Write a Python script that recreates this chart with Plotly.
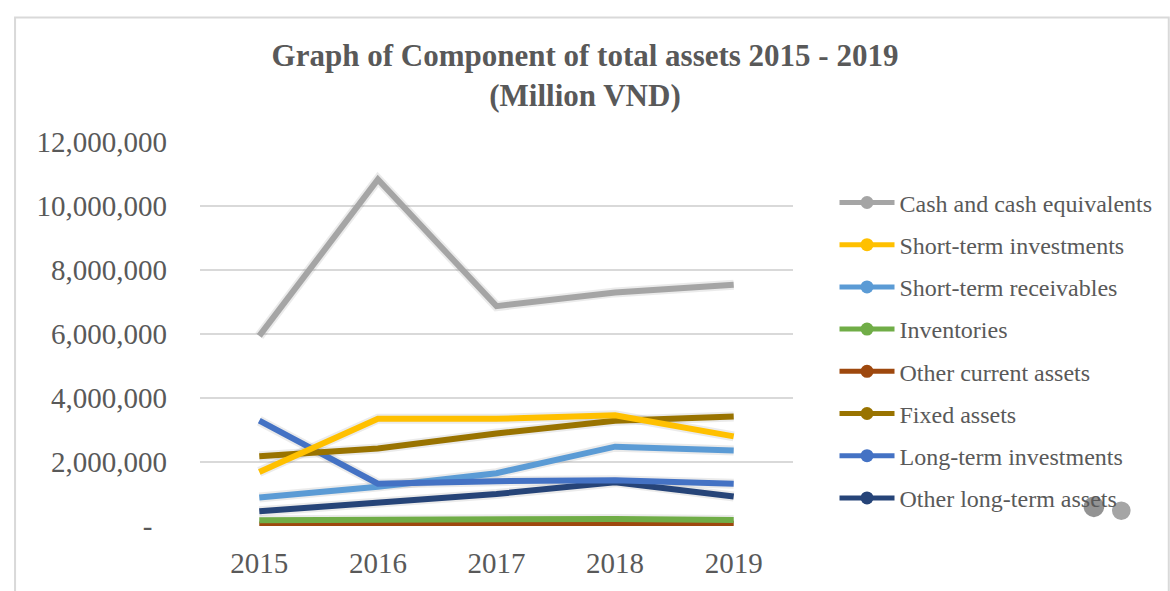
import plotly.graph_objects as go

years = ["2015", "2016", "2017", "2018", "2019"]
series_names = [
    "Cash and cash equivalents",
    "Short-term investments",
    "Short-term receivables",
    "Inventories",
    "Other current assets",
    "Fixed assets",
    "Long-term investments",
    "Other long-term assets",
]
cash = [5940000, 10830000, 6870000, 7300000, 7540000]
short_inv = [1690000, 3350000, 3350000, 3460000, 2800000]
short_rec = [890000, 1230000, 1650000, 2480000, 2360000]
inventories = [180000, 200000, 230000, 220000, 190000]
other_current = [50000, 60000, 110000, 90000, 70000]
fixed_assets = [2180000, 2420000, 2890000, 3290000, 3420000]
long_inv = [3290000, 1320000, 1400000, 1430000, 1320000]
other_long = [460000, 720000, 1000000, 1370000, 920000]
colors = ["#A5A5A5", "#FFC000", "#5B9BD5", "#70AD47", "#9E480E", "#997300", "#4472C4", "#264478"]
y_tickvals = [0, 2000000, 4000000, 6000000, 8000000, 10000000, 12000000]
y_ticktext = ["-\u00a0\u00a0", "2,000,000", "4,000,000", "6,000,000", "8,000,000", "10,000,000", "12,000,000"]

data = [cash, short_inv, short_rec, inventories, other_current, fixed_assets, long_inv, other_long]

FONT = "Liberation Serif"
TXT = "#595959"

fig = go.Figure()
# soft shadows
for vals in data:
    fig.add_trace(go.Scatter(x=years, y=vals, mode="lines", showlegend=False, hoverinfo="skip",
                             line=dict(color="rgba(0,0,0,0.08)", width=10)))
order = [4, 3, 7, 2, 6, 5, 1, 0]
for i in order:
    fig.add_trace(go.Scatter(x=years, y=data[i], mode="lines", name=series_names[i], showlegend=False,
                             line=dict(color=colors[i], width=6)))
for i, name in enumerate(series_names):
    fig.add_trace(go.Scatter(x=[None], y=[None], mode="lines+markers", name=name, legendgroup=name,
                             line=dict(color=colors[i], width=5), marker=dict(color=colors[i], size=13)))

fig.update_layout(
    width=1170, height=591,
    margin=dict(l=200, r=364, t=142, b=59),
    paper_bgcolor="white", plot_bgcolor="white",
    font=dict(family=FONT, color=TXT),
    title=dict(text="<b>Graph of Component of total assets 2015 - 2019<br>(Million VND)</b>",
               x=0.5, xanchor="center", xref="container", y=1 - 66 / 591, yanchor="top",
               font=dict(size=31, color=TXT, family=FONT)),
    xaxis=dict(type="category", range=[-0.5, 4.5], showgrid=False, showline=False, zeroline=False,
               ticks="", tickfont=dict(size=29, color=TXT, family=FONT), ticklabelstandoff=17),
    yaxis=dict(range=[0, 12000000], tickvals=y_tickvals, ticktext=y_ticktext,
               showgrid=True, gridcolor="#D9D9D9", gridwidth=2, zeroline=False, showline=False,
               tickfont=dict(size=29, color=TXT, family=FONT), ticklabelstandoff=32),
    legend=dict(x=1.07, xanchor="left", y=0.90, yanchor="top", tracegroupgap=8,
                font=dict(size=24, color=TXT, family=FONT), bgcolor="rgba(0,0,0,0)", itemwidth=55),
    showlegend=True,
)

# chart frame and stray dots
fig.add_shape(type="rect", xref="paper", yref="paper",
              x0=(11 - 200) / 606, x1=(1190 - 200) / 606,
              y0=(532 - 620) / 390, y1=(532 - 15.5) / 390,
              line=dict(color="#D9D9D9", width=2), fillcolor="rgba(0,0,0,0)", layer="below")
fig.add_shape(type="circle", xref="paper", yref="paper",
              x0=(1103 - 200) / 606, x1=(1124 - 200) / 606,
              y0=(532 - 523) / 390, y1=(532 - 502) / 390,
              line=dict(width=0), fillcolor="rgba(40,40,40,0.5)")
fig.add_shape(type="circle", xref="paper", yref="paper",
              x0=(1132 - 200) / 606, x1=(1151 - 200) / 606,
              y0=(532 - 526) / 390, y1=(532 - 507) / 390,
              line=dict(width=0), fillcolor="#A5A5A5")

fig.write_html("out.html")
